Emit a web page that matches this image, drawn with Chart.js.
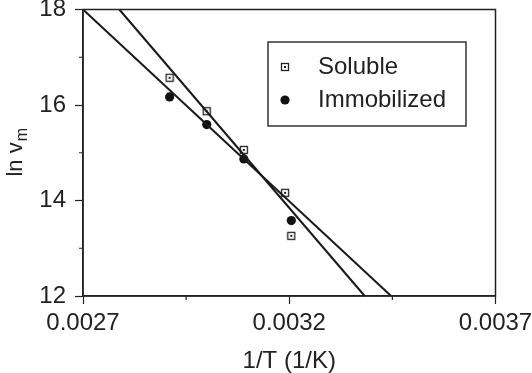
<!DOCTYPE html>
<html>
<head>
<meta charset="utf-8">
<script src="https://cdn.jsdelivr.net/npm/chart.js@4.4.1/dist/chart.umd.min.js"></script>
<style>
  body { margin: 0; background: #fff; }
  #wrap { width: 532px; height: 373px; }
</style>
</head>
<body>
<div id="wrap"><canvas id="arrhenius" width="532" height="373"></canvas></div>
<script>
// data
var solubleX = [0.00291, 0.00300, 0.00309, 0.00319, 0.003205];
var solubleY = [16.57, 15.87, 15.06, 14.16, 13.26];
var immobX = [0.00291, 0.00300, 0.00309, 0.003205];
var immobY = [16.17, 15.59, 14.87, 13.58];
// fitted lines (end points on the frame)
var solubleFitX = [0.002788, 0.003383];
var solubleFitY = [18, 12];
var immobFitX = [0.0027, 0.003447];
var immobFitY = [18, 12];
var seriesNames = ['Soluble', 'Immobilized'];
var xTitle = '1/T (1/K)';

var ink = '#222';
var fontFamily = "'Liberation Sans', Arial, Helvetica, sans-serif";

function pts(xs, ys) {
    return xs.map(function (x, i) { return { x: x, y: ys[i] }; });
}

// hollow square with a dot in the middle
var squareDot = document.createElement('canvas');
squareDot.width = 10;
squareDot.height = 10;
(function () {
    var c = squareDot.getContext('2d');
    c.strokeStyle = ink;
    c.lineWidth = 1.3;
    c.strokeRect(1.5, 1.5, 7, 7);
    c.fillStyle = ink;
    c.fillRect(4, 4, 2, 2);
})();

var framePlugin = {
    id: 'frame',
    afterDraw: function (chart) {
        var ctx = chart.ctx;
        var a = chart.chartArea;
        var xs = chart.scales.x, ys = chart.scales.y;
        ctx.save();
        ctx.strokeStyle = ink;
        ctx.lineWidth = 1.5;
        ctx.strokeRect(a.left, a.top, a.right - a.left, a.bottom - a.top);
        // minor ticks
        ctx.lineWidth = 1.2;
        ctx.beginPath();
        xs.ticks.forEach(function (t, i) {
            if (i % 2) {
                var px = xs.getPixelForValue(t.value);
                ctx.moveTo(px, a.bottom);
                ctx.lineTo(px, a.bottom + 4);
            }
        });
        ys.ticks.forEach(function (t, i) {
            if (i % 2) {
                var py = ys.getPixelForValue(t.value);
                ctx.moveTo(a.left, py);
                ctx.lineTo(a.left - 4, py);
            }
        });
        ctx.stroke();

        // y title: ln v_m
        var cy = (a.top + a.bottom) / 2;
        ctx.translate(22, cy);
        ctx.rotate(-Math.PI / 2);
        ctx.fillStyle = ink;
        ctx.textBaseline = 'alphabetic';
        ctx.font = '22px ' + fontFamily;
        var w1 = ctx.measureText('ln v').width;
        ctx.font = '16px ' + fontFamily;
        var w2 = ctx.measureText('m').width;
        var x0 = -(w1 + w2) / 2;
        ctx.font = '22px ' + fontFamily;
        ctx.fillText('ln v', x0, 0);
        ctx.font = '16px ' + fontFamily;
        ctx.fillText('m', x0 + w1 + 1, 5);
        ctx.restore();

        // legend box
        ctx.save();
        ctx.strokeStyle = '#333';
        ctx.lineWidth = 1.5;
        ctx.strokeRect(268, 42, 198, 84);
        ctx.drawImage(squareDot, 285 - 5, 67 - 5);
        ctx.fillStyle = '#111';
        ctx.beginPath();
        ctx.arc(285, 100, 4.6, 0, Math.PI * 2);
        ctx.fill();
        ctx.fillStyle = ink;
        ctx.font = '24px ' + fontFamily;
        ctx.textBaseline = 'middle';
        ctx.fillText(seriesNames[0], 318, 67);
        ctx.fillText(seriesNames[1], 318, 100);
        ctx.restore();
    }
};

window.addEventListener('load', function () {
    var ctx = document.getElementById('arrhenius').getContext('2d');
    new Chart(ctx, {
        type: 'scatter',
        data: {
            datasets: [
                {
                    label: seriesNames[0] + ' fit',
                    data: pts(solubleFitX, solubleFitY),
                    showLine: true,
                    borderColor: '#1a1a1a',
                    borderWidth: 2,
                    pointRadius: 0
                },
                {
                    label: seriesNames[1] + ' fit',
                    data: pts(immobFitX, immobFitY),
                    showLine: true,
                    borderColor: '#1a1a1a',
                    borderWidth: 2,
                    pointRadius: 0
                },
                {
                    label: seriesNames[0],
                    data: pts(solubleX, solubleY),
                    pointStyle: squareDot,
                    pointRadius: 5
                },
                {
                    label: seriesNames[1],
                    data: pts(immobX, immobY),
                    pointStyle: 'circle',
                    pointRadius: 4.6,
                    backgroundColor: '#111',
                    borderColor: '#111',
                    borderWidth: 0
                }
            ]
        },
        options: {
            responsive: false,
            animation: false,
            clip: false,
            layout: { padding: { top: 9.5, right: 36.5, left: 0, bottom: 0 } },
            plugins: {
                legend: { display: false },
                tooltip: { enabled: false }
            },
            scales: {
                x: {
                    type: 'linear',
                    min: 0.0027,
                    max: 0.0037,
                    grid: {
                        drawOnChartArea: false,
                        tickLength: 8,
                        tickWidth: 1.2,
                        tickColor: function (c) { return c.index % 2 ? 'rgba(0,0,0,0)' : ink; }
                    },
                    border: { display: true, color: ink, width: 1.5 },
                    ticks: {
                        stepSize: 0.00025,
                        autoSkip: false,
                        maxRotation: 0,
                        padding: 5,
                        color: ink,
                        font: { family: fontFamily, size: 24 },
                        callback: function (v, i) { return i % 2 ? '' : v.toFixed(4); }
                    },
                    title: {
                        display: true,
                        text: xTitle,
                        color: ink,
                        font: { family: fontFamily, size: 24, lineHeight: 1 },
                        padding: { top: 0, bottom: 0 }
                    },
                    afterFit: function (s) {
                        s.height = 77;
                        s.paddingLeft = 0;
                        s.paddingRight = 0;
                    }
                },
                y: {
                    min: 12,
                    max: 18,
                    grid: {
                        drawOnChartArea: false,
                        tickLength: 8,
                        tickWidth: 1.2,
                        tickColor: function (c) { return c.index % 2 ? 'rgba(0,0,0,0)' : ink; }
                    },
                    border: { display: true, color: ink, width: 1.5 },
                    ticks: {
                        stepSize: 1,
                        autoSkip: false,
                        padding: 9,
                        color: ink,
                        font: { family: fontFamily, size: 24 },
                        callback: function (v, i) { return i % 2 ? '' : v; }
                    },
                    afterFit: function (s) {
                        s.width = 83;
                        s.paddingTop = 0;
                        s.paddingBottom = 0;
                    }
                }
            }
        },
        plugins: [framePlugin]
    });
});
</script>
</body>
</html>
